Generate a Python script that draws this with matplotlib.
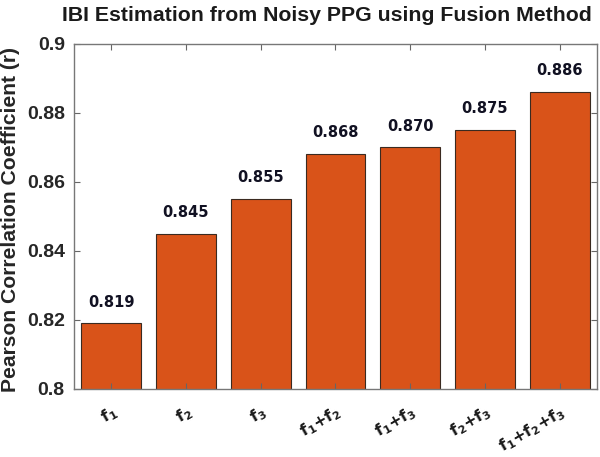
import matplotlib
matplotlib.use("Agg")
import matplotlib.pyplot as plt

categories = [r"$f_1$", r"$f_2$", r"$f_3$", r"$f_1$+$f_2$", r"$f_1$+$f_3$",
              r"$f_2$+$f_3$", r"$f_1$+$f_2$+$f_3$"]
values = [0.819, 0.845, 0.855, 0.868, 0.870, 0.875, 0.886]
value_labels = ["0.819", "0.845", "0.855", "0.868", "0.870", "0.875", "0.886"]
yticks = [0.80, 0.82, 0.84, 0.86, 0.88, 0.90]
ytick_labels = ["0.8", "0.82", "0.84", "0.86", "0.88", "0.9"]

plt.rcParams['mathtext.fontset'] = 'dejavusans'
plt.rcParams['mathtext.default'] = 'bf'

fig = plt.figure(figsize=(6.0, 4.57), dpi=100)
ax = fig.add_axes([0.123, 0.149, 0.872, 0.755])

x = list(range(1, len(values) + 1))
ax.bar(x, values, width=0.8, color="#D95319", edgecolor="#3a2a20", linewidth=0.8)

ax.set_xlim(0.5, len(values) + 0.5)
ax.set_ylim(0.8, 0.9)
ax.set_yticks(yticks)
ax.set_yticklabels(ytick_labels, family="Liberation Sans", fontweight="bold",
                   fontsize=14, color="#262626")
ax.set_xticks(x)
ax.set_xticklabels(categories, rotation=30, ha="right", va="top",
                   rotation_mode="anchor", fontsize=11.5, family="DejaVu Sans",
                   fontweight="bold", color="#1a1a1a")
ax.tick_params(axis="both", direction="in", length=4, width=0.8, color="#666666",
               top=True, right=True)
ax.tick_params(axis="x", pad=10)
ax.tick_params(axis="y", pad=6.5)
for s in ax.spines.values():
    s.set_color("#777777")
    s.set_linewidth(1.0)

for xi, v, lab in zip(x, values, value_labels):
    ax.text(xi, v + 0.004, lab, ha="center", va="bottom", fontsize=10.5,
            family="DejaVu Sans", fontweight="bold", color="#111122")

ax.set_ylabel("Pearson Correlation Coefficient (r)", family="Liberation Sans",
              fontweight="bold", fontsize=15.2, color="#262626")
ax.yaxis.set_label_coords(-0.103, 0.49)
fig.text(0.545, 0.966, "IBI Estimation from Noisy PPG using Fusion Method",
         ha="center", va="center", family="Liberation Sans", fontweight="bold",
         fontsize=15.3, color="#1a1a1a")

fig.savefig("out.png", dpi=100)
